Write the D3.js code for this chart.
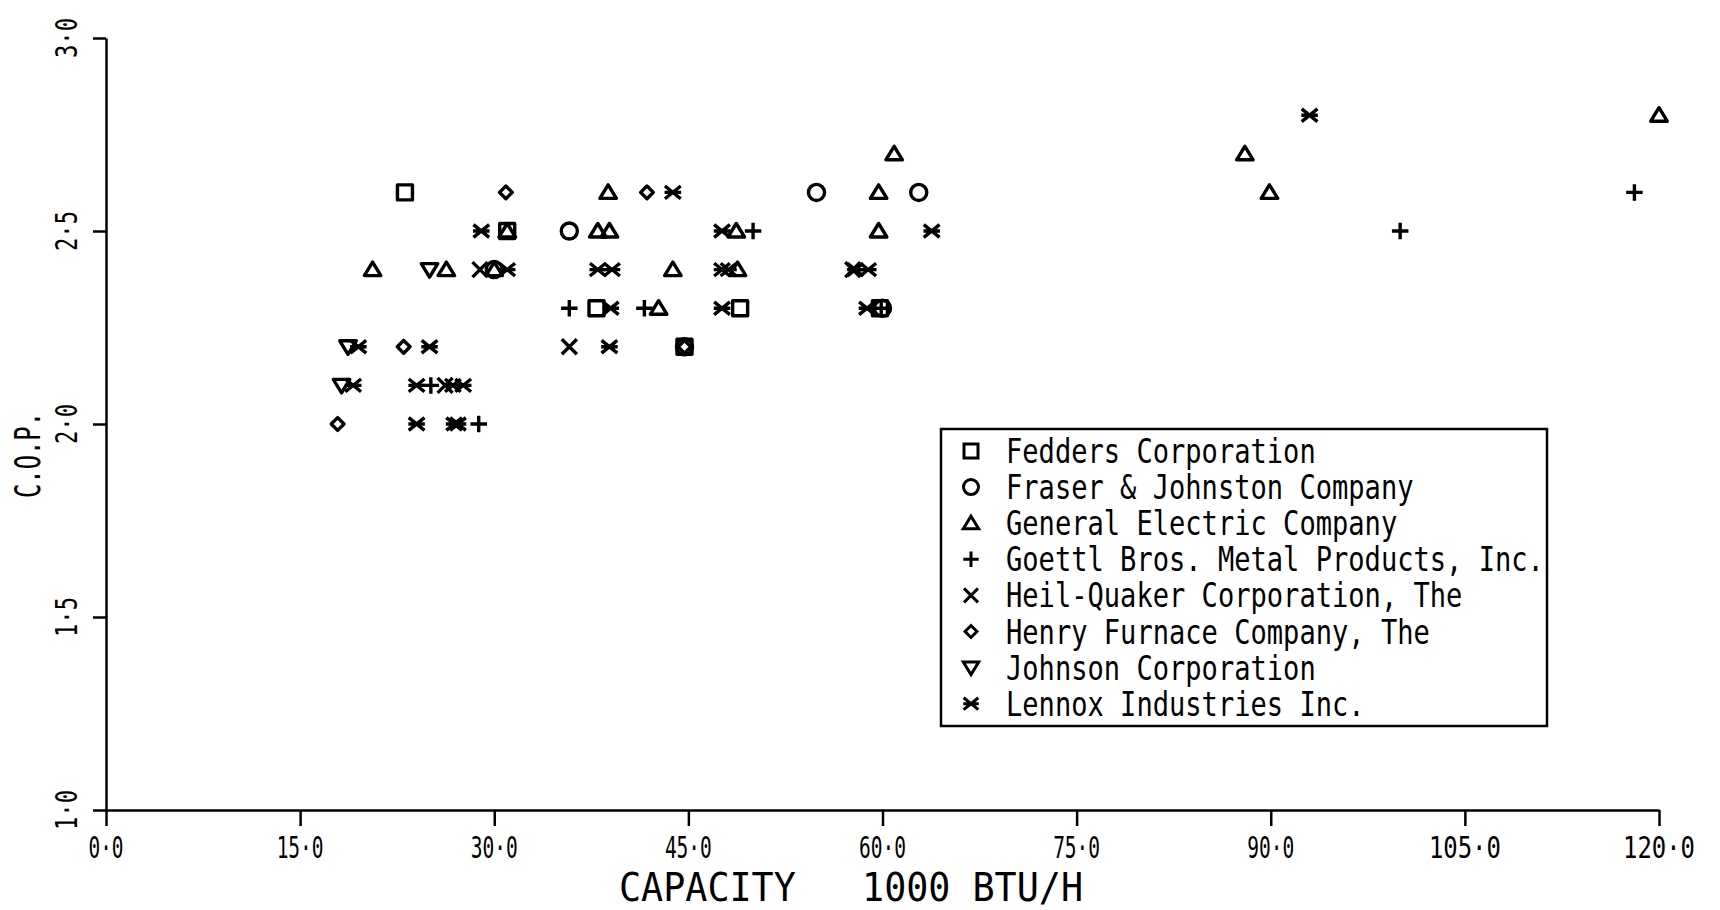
<!DOCTYPE html>
<html>
<head>
<meta charset="utf-8">
<script src="https://cdn.jsdelivr.net/npm/d3@7"></script>
<style>
  body { margin: 0; background: #fff; }
  text { font-family: "DejaVu Sans Mono", "Liberation Mono", monospace; fill: #000; }
</style>
</head>
<body>
<div id="chart"></div>
<script>
(function () {
	'use strict';

	// data: [capacity (1000 BTU/h), C.O.P.]
	var fedders = [[23.1, 2.6], [31.0, 2.5], [37.9, 2.3], [49.0, 2.3], [59.8, 2.3], [44.7, 2.2]];
	var fraser = [[54.9, 2.6], [62.8, 2.6], [35.8, 2.5], [30.0, 2.4], [60.0, 2.3], [44.7, 2.2]];
	var generalElectric = [[120.0, 2.8], [60.9, 2.7], [88.0, 2.7], [38.8, 2.6], [59.7, 2.6], [89.9, 2.6],
		[31.0, 2.5], [38.0, 2.5], [38.9, 2.5], [48.7, 2.5], [59.7, 2.5],
		[20.6, 2.4], [26.3, 2.4], [30.0, 2.4], [43.8, 2.4], [48.8, 2.4], [42.7, 2.3]];
	var goettl = [[118.1, 2.6], [50.0, 2.5], [100.0, 2.5], [35.8, 2.3], [41.6, 2.3], [59.9, 2.3],
		[25.1, 2.1], [28.8, 2.0]];
	var heilQuaker = [[28.9, 2.4], [57.7, 2.4], [35.8, 2.2], [26.2, 2.1]];
	var henry = [[30.9, 2.6], [41.8, 2.6], [23.0, 2.2], [17.9, 2.0], [44.7, 2.2]];
	var johnson = [[25.0, 2.4], [18.7, 2.2], [18.2, 2.1]];
	var lennox = [[93.0, 2.8], [43.8, 2.6], [29.0, 2.5], [47.6, 2.5], [63.8, 2.5],
		[31.0, 2.4], [38.0, 2.4], [39.1, 2.4], [47.6, 2.4], [48.1, 2.4], [57.9, 2.4], [58.9, 2.4],
		[39.0, 2.3], [47.6, 2.3], [58.8, 2.3],
		[19.5, 2.2], [25.0, 2.2], [38.9, 2.2],
		[19.1, 2.1], [24.0, 2.1], [26.8, 2.1], [27.6, 2.1],
		[24.0, 2.0], [26.9, 2.0], [27.2, 2.0]];

	var companies = ['Fedders Corporation', 'Fraser & Johnston Company', 'General Electric Company',
		'Goettl Bros. Metal Products, Inc.', 'Heil-Quaker Corporation, The', 'Henry Furnace Company, The',
		'Johnson Corporation', 'Lennox Industries Inc.'];
	var symbols = ['square', 'circle', 'triangle', 'plus', 'cross', 'diamond', 'triangleDown', 'asterisk'];
	var seriesData = [fedders, fraser, generalElectric, goettl, heilQuaker, henry, johnson, lennox];

	var xTicks = [0, 15, 30, 45, 60, 75, 90, 105, 120];
	var yTicks = [1.0, 1.5, 2.0, 2.5, 3.0];
	var xTickLabels = ['0·0', '15·0', '30·0', '45·0', '60·0', '75·0', '90·0', '105·0', '120·0'];
	var yTickLabels = ['1·0', '1·5', '2·0', '2·5', '3·0'];

	var width = 1720, height = 910;
	var left = 106, right = 1659, top = 38, bottom = 810;
	var labelWidth = { 3: 35, 4: 47, 5: 72 };

	var x = d3.scaleLinear().domain([0, 120]).range([left, right]);
	var y = d3.scaleLinear().domain([1, 3]).range([bottom, top]);

	var svg = d3.select('#chart').append('svg')
		.attr('width', width)
		.attr('height', height)
		.style('background-color', '#fff');

	// marker outlines, s = half size
	function shapePath(type, s) {
		switch (type) {
			case 'square':
				return 'M' + (-s) + ',' + (-s) + 'H' + s + 'V' + s + 'H' + (-s) + 'Z';
			case 'circle':
				return d3.symbol(d3.symbolCircle, Math.PI * s * s * 1.15)();
			case 'triangle':
				return 'M0,' + (-s) + 'L' + (s * 1.1) + ',' + (s * 0.8) + 'L' + (-s * 1.1) + ',' + (s * 0.8) + 'Z';
			case 'triangleDown':
				return 'M0,' + s + 'L' + (s * 1.1) + ',' + (-s * 0.8) + 'L' + (-s * 1.1) + ',' + (-s * 0.8) + 'Z';
			case 'plus':
				return 'M' + (-s * 1.1) + ',0H' + (s * 1.1) + 'M0,' + (-s * 1.1) + 'V' + (s * 1.1);
			case 'cross':
				return 'M' + (-s) + ',' + (-s) + 'L' + s + ',' + s + 'M' + s + ',' + (-s) + 'L' + (-s) + ',' + s;
			case 'diamond':
				var d = s * 0.85;
				return 'M0,' + (-d) + 'L' + d + ',0L0,' + d + 'L' + (-d) + ',0Z';
			case 'asterisk':
				return 'M' + (-s * 1.05) + ',' + (-s * 0.85) + 'L' + (s * 1.05) + ',' + (s * 0.85) +
					'M' + (s * 1.05) + ',' + (-s * 0.85) + 'L' + (-s * 1.05) + ',' + (s * 0.85) +
					'M' + (-s * 1.1) + ',0H' + (s * 1.1);
		}
	}

	// axes
	var xAxis = d3.axisBottom(x).tickValues(xTicks).tickSize(16).tickSizeOuter(0).tickFormat('');
	var yAxis = d3.axisLeft(y).tickValues(yTicks).tickSize(13).tickSizeOuter(0).tickFormat('');

	var gx = svg.append('g').attr('transform', 'translate(0,' + bottom + ')').call(xAxis);
	var gy = svg.append('g').attr('transform', 'translate(' + left + ',0)').call(yAxis);
	[gx, gy].forEach(function (g) {
		g.selectAll('path, line').attr('stroke', '#000').attr('stroke-width', 2.5);
	});

	svg.append('g').selectAll('text')
		.data(xTicks)
		.enter().append('text')
		.attr('transform', function (d) { return 'translate(' + x(d) + ',858)'; })
		.attr('text-anchor', 'middle')
		.attr('font-size', 31)
		.attr('textLength', function (d, i) { return labelWidth[xTickLabels[i].length]; })
		.attr('lengthAdjust', 'spacingAndGlyphs')
		.text(function (d, i) { return xTickLabels[i]; });

	svg.append('g').selectAll('text')
		.data(yTicks)
		.enter().append('text')
		.attr('transform', function (d) { return 'translate(77,' + y(d) + ') rotate(-90)'; })
		.attr('text-anchor', 'middle')
		.attr('font-size', 31)
		.attr('textLength', 40)
		.attr('lengthAdjust', 'spacingAndGlyphs')
		.text(function (d, i) { return yTickLabels[i]; });

	svg.append('text')
		.attr('x', 851)
		.attr('y', 901)
		.attr('text-anchor', 'middle')
		.attr('font-size', 39)
		.attr('textLength', 464)
		.attr('lengthAdjust', 'spacingAndGlyphs')
		.style('white-space', 'pre')
		.text('CAPACITY   1000 BTU/H');

	svg.append('text')
		.attr('transform', 'translate(40,455) rotate(-90)')
		.attr('text-anchor', 'middle')
		.attr('font-size', 36)
		.attr('textLength', 86)
		.attr('lengthAdjust', 'spacingAndGlyphs')
		.text('C.O.P.');

	// points
	seriesData.forEach(function (pts, i) {
		svg.append('g').selectAll('path')
			.data(pts)
			.enter().append('path')
			.attr('transform', function (d) { return 'translate(' + x(d[0]) + ',' + y(d[1]) + ')'; })
			.attr('d', shapePath(symbols[i], 7.5))
			.attr('fill', 'none')
			.attr('stroke', '#000')
			.attr('stroke-width', 3.4)
			.attr('stroke-linejoin', 'round');
	});

	// legend
	var legend = svg.append('g');
	legend.append('rect')
		.attr('x', 941).attr('y', 429)
		.attr('width', 606).attr('height', 297)
		.attr('fill', '#fff')
		.attr('stroke', '#000')
		.attr('stroke-width', 2.5);

	var rows = legend.selectAll('g.row')
		.data(companies)
		.enter().append('g')
		.attr('class', 'row')
		.attr('transform', function (d, i) { return 'translate(0,' + (451 + i * 36.1) + ')'; });

	rows.append('path')
		.attr('transform', 'translate(971,0)')
		.attr('d', function (d, i) { return shapePath(symbols[i], 7); })
		.attr('fill', 'none')
		.attr('stroke', '#000')
		.attr('stroke-width', 3);

	rows.append('text')
		.attr('x', 1006)
		.attr('y', 12)
		.attr('font-size', 33)
		.attr('textLength', function (d) { return d.length * 16.3; })
		.attr('lengthAdjust', 'spacingAndGlyphs')
		.text(function (d) { return d; });

}());
</script>
</body>
</html>
